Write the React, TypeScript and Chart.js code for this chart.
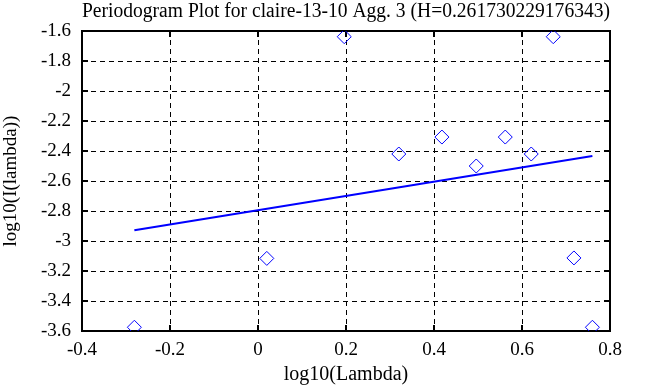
import React, { useEffect, useRef } from "react";
import { Chart, registerables } from "chart.js";

Chart.register(...registerables);

const pointX = [-0.281, 0.02, 0.196, 0.32, 0.418, 0.496, 0.562, 0.621, 0.671, 0.718, 0.76];
const pointY = [-3.575, -3.116, -1.638, -2.42, -2.307, -2.5, -2.307, -2.42, -1.638, -3.113, -3.575];
const fitX = [-0.281, 0.76];
const fitY = [-2.929, -2.433];

const xTickValues = [-0.4, -0.2, 0, 0.2, 0.4, 0.6, 0.8];
const xTickLabels = ["-0.4", "-0.2", "0", "0.2", "0.4", "0.6", "0.8"];
const yTickValues = [-3.6, -3.4, -3.2, -3, -2.8, -2.6, -2.4, -2.2, -2, -1.8, -1.6];
const yTickLabels = ["-3.6", "-3.4", "-3.2", "-3", "-2.8", "-2.6", "-2.4", "-2.2", "-2", "-1.8", "-1.6"];

const titleText = "Periodogram Plot for claire-13-10 Agg. 3 (H=0.261730229176343)";
const xTitle = "log10(Lambda)";
const yTitle = "log10(I(lambda))";

const FONT = "'Liberation Serif', 'Times New Roman', serif";

function labelFor(values: number[], labels: string[], v: number) {
  for (let i = 0; i < values.length; i++) {
    if (Math.abs(values[i] - v) < 1e-6) return labels[i];
  }
  return "";
}

const framePlugin = {
  id: "framePlugin",
  beforeDatasetsDraw(chart: any) {
    const { ctx, chartArea } = chart;
    const { left, right, top, bottom } = chartArea;
    const xs = chart.scales.x;
    const ys = chart.scales.y;
    ctx.save();
    ctx.strokeStyle = "#000";
    ctx.lineWidth = 1;
    ctx.setLineDash([5, 4]);
    xTickValues.forEach((v) => {
      const px = Math.round(xs.getPixelForValue(v)) + 0.5;
      if (px <= left + 2 || px >= right - 2) return;
      ctx.beginPath();
      ctx.moveTo(px, top);
      ctx.lineTo(px, bottom);
      ctx.stroke();
    });
    yTickValues.forEach((v) => {
      const py = Math.round(ys.getPixelForValue(v)) + 0.5;
      if (py <= top + 2 || py >= bottom - 2) return;
      ctx.beginPath();
      ctx.moveTo(left, py);
      ctx.lineTo(right, py);
      ctx.stroke();
    });
    ctx.setLineDash([]);
    ctx.lineWidth = 2;
    const tl = 6;
    xTickValues.forEach((v) => {
      const px = Math.round(xs.getPixelForValue(v));
      ctx.beginPath();
      ctx.moveTo(px, top);
      ctx.lineTo(px, top + tl);
      ctx.moveTo(px, bottom);
      ctx.lineTo(px, bottom - tl);
      ctx.stroke();
    });
    yTickValues.forEach((v) => {
      const py = Math.round(ys.getPixelForValue(v));
      ctx.beginPath();
      ctx.moveTo(left, py);
      ctx.lineTo(left + tl, py);
      ctx.moveTo(right, py);
      ctx.lineTo(right - tl, py);
      ctx.stroke();
    });
    ctx.lineWidth = 2;
    ctx.strokeRect(left, top, right - left, bottom - top);
    ctx.restore();
  },
};

export default function App() {
  const canvasRef = useRef<HTMLCanvasElement | null>(null);

  useEffect(() => {
    document.body.style.margin = "0";
    const canvas = canvasRef.current;
    if (!canvas) return;
    const chart = new Chart(canvas, {
      type: "scatter",
      data: {
        datasets: [
          {
            type: "scatter",
            data: pointX.map((x, i) => ({ x, y: pointY[i] })),
            pointStyle: "rectRot",
            pointRadius: 7,
            pointBorderWidth: 1,
            borderColor: "#0000ff",
            backgroundColor: "rgba(0,0,0,0)",
            showLine: false,
          } as any,
          {
            type: "line",
            data: fitX.map((x, i) => ({ x, y: fitY[i] })),
            borderColor: "#0000ff",
            borderWidth: 2,
            pointRadius: 0,
            fill: false,
            tension: 0,
          } as any,
        ],
      },
      options: {
        animation: false,
        responsive: false,
        maintainAspectRatio: false,
        layout: { padding: { left: 0, right: 53, top: 0, bottom: 0 } },
        plugins: {
          legend: { display: false },
          tooltip: { enabled: false },
          title: {
            display: true,
            text: titleText,
            color: "#000",
            fullSize: false,
            font: { family: FONT, size: 20, weight: "normal" },
            padding: { top: 0, bottom: 7 },
          },
        },
        scales: {
          x: {
            type: "linear",
            min: -0.4,
            max: 0.8,
            afterBuildTicks: (scale: any) => {
              scale.ticks = xTickValues.map((v) => ({ value: v }));
            },
            afterFit: (scale: any) => {
              scale.height = 56;
            },
            grid: { display: false, drawTicks: false },
            border: { display: false },
            ticks: {
              color: "#000",
              font: { family: FONT, size: 19 },
              padding: 8,
              maxRotation: 0,
              autoSkip: false,
              callback: (v: any) => labelFor(xTickValues, xTickLabels, Number(v)),
            },
            title: {
              display: true,
              text: xTitle,
              color: "#000",
              font: { family: FONT, size: 20 },
              padding: { top: 0, bottom: 0 },
            },
          },
          y: {
            type: "linear",
            min: -3.6,
            max: -1.6,
            afterBuildTicks: (scale: any) => {
              scale.ticks = yTickValues.map((v) => ({ value: v }));
            },
            afterFit: (scale: any) => {
              scale.width = 82;
            },
            grid: { display: false, drawTicks: false },
            border: { display: false },
            ticks: {
              color: "#000",
              font: { family: FONT, size: 19 },
              padding: 11,
              autoSkip: false,
              callback: (v: any) => labelFor(yTickValues, yTickLabels, Number(v)),
            },
            title: {
              display: true,
              text: yTitle,
              color: "#000",
              font: { family: FONT, size: 19 },
              padding: { top: 0, bottom: 0 },
            },
          },
        },
      } as any,
      plugins: [framePlugin],
    });
    return () => chart.destroy();
  }, []);

  return (
    <div style={{ position: "absolute", left: 0, top: 0, width: 663, height: 387, background: "#fff" }}>
      <canvas ref={canvasRef} width={663} height={387} style={{ width: 663, height: 387 }} />
    </div>
  );
}
